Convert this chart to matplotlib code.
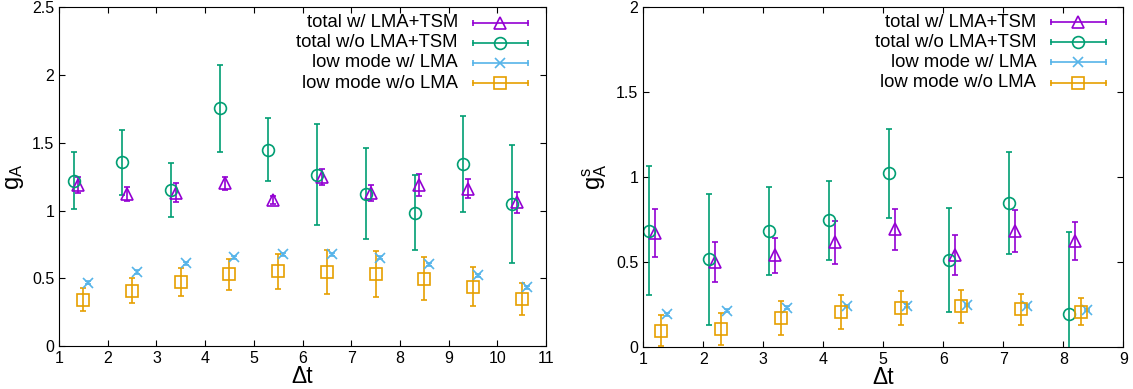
import numpy as np
import matplotlib
matplotlib.use("Agg")
import matplotlib.pyplot as plt

plt.rcParams['font.family'] = ['Liberation Sans', 'DejaVu Sans']
plt.rcParams['mathtext.fontset'] = 'custom'
plt.rcParams['mathtext.rm'] = 'Liberation Sans'
plt.rcParams['mathtext.it'] = 'Liberation Sans'

labels = ['total w/ LMA+TSM', 'total w/o LMA+TSM', 'low mode w/ LMA', 'low mode w/o LMA']
colors = ['#9400d3', '#009e73', '#56b4e9', '#e69f00']
markers = ['^', 'o', 'x', 's']
msizes = [8, 8.5, 7.5, 8]

# left panel: g_A
dt_left = np.arange(1, 11)
offs_left = [0.4, 0.3, 0.6, 0.5]
tot_lma = [1.19, 1.12, 1.13, 1.20, 1.08, 1.25, 1.13, 1.19, 1.16, 1.06]
tot_lma_err = [0.06, 0.05, 0.07, 0.05, 0.03, 0.06, 0.06, 0.08, 0.07, 0.08]
tot_nolma = [1.22, 1.355, 1.15, 1.755, 1.45, 1.265, 1.125, 0.985, 1.345, 1.045]
tot_nolma_err = [0.21, 0.24, 0.20, 0.32, 0.235, 0.373, 0.337, 0.275, 0.355, 0.435]
low_lma = [0.466, 0.547, 0.609, 0.654, 0.678, 0.678, 0.651, 0.602, 0.523, 0.432]
low_lma_err = [0.012] * 10
low_nolma = [0.343, 0.407, 0.473, 0.528, 0.552, 0.545, 0.530, 0.496, 0.437, 0.348]
low_nolma_err = [0.083, 0.092, 0.105, 0.115, 0.13, 0.162, 0.17, 0.16, 0.143, 0.118]

# right panel: g_A^s
dt_right = np.arange(1, 9)
offs_right = [0.2, 0.1, 0.4, 0.3]
s_tot_lma = [0.668, 0.50, 0.537, 0.613, 0.69, 0.54, 0.68, 0.622]
s_tot_lma_err = [0.14, 0.118, 0.104, 0.126, 0.12, 0.12, 0.123, 0.112]
s_tot_nolma = [0.682, 0.514, 0.681, 0.743, 1.02, 0.51, 0.843, 0.192]
s_tot_nolma_err = [0.38, 0.385, 0.26, 0.233, 0.262, 0.304, 0.30, 0.48]
s_low_lma = [0.191, 0.212, 0.229, 0.239, 0.241, 0.245, 0.239, 0.216]
s_low_lma_err = [0.008] * 8
s_low_nolma = [0.094, 0.106, 0.171, 0.204, 0.229, 0.239, 0.22, 0.206]
s_low_nolma_err = [0.09, 0.095, 0.10, 0.10, 0.10, 0.097, 0.09, 0.08]

fig = plt.figure(figsize=(11.33, 3.89), dpi=100)
axL = fig.add_axes([59/1133, 1-346/389, 487/1133, 338.7/389])
axR = fig.add_axes([643.3/1133, 1-346.7/389, 480/1133, 340/389])


def draw(ax, dt, offs, series):
    for (y, e), c, m, ms, o in zip(series, colors, markers, msizes, offs):
        ax.errorbar(dt + o, y, yerr=e, fmt=m, color=c, mfc='none', mec=c,
                    ms=ms, mew=1.2, elinewidth=1.2, capsize=2.3, capthick=1.2)
    # gnuplot style key
    rows = [0.954, 0.895, 0.836, 0.776]
    for lab, c, m, ms, yy in zip(labels, colors, markers, msizes, rows):
        ax.text(0.819, yy, lab, transform=ax.transAxes, ha='right', va='center',
                fontsize=13.3)
        ax.plot([0.85, 0.963], [yy, yy], color=c, lw=1.2, marker='|', ms=5,
                mew=1.2, transform=ax.transAxes)
        ax.plot([0.906], [yy], color=c, marker=m, mfc='none', mew=1.2,
                ms=ms, transform=ax.transAxes)
    ax.tick_params(direction='in', top=True, right=True, length=4,
                   labelsize=11.5, width=0.8)
    ax.set_xlabel('Δt', fontsize=16.5)
    ax.xaxis.set_label_coords(0.5, -0.056)


draw(axL, dt_left, offs_left,
     [(tot_lma, tot_lma_err), (tot_nolma, tot_nolma_err),
      (low_lma, low_lma_err), (low_nolma, low_nolma_err)])
axL.set_xlim(1, 11)
axL.set_ylim(0, 2.5)
axL.set_xticks(range(1, 12))
axL.set_yticks([0, 0.5, 1, 1.5, 2, 2.5])
axL.set_yticklabels(['0', '0.5', '1', '1.5', '2', '2.5'])
axL.set_ylabel(r'$\mathregular{g_A}$', fontsize=17)
axL.yaxis.set_label_coords(-0.068, 0.5)

draw(axR, dt_right, offs_right,
     [(s_tot_lma, s_tot_lma_err), (s_tot_nolma, s_tot_nolma_err),
      (s_low_lma, s_low_lma_err), (s_low_nolma, s_low_nolma_err)])
axR.set_xlim(1, 9)
axR.set_ylim(0, 2)
axR.set_xticks(range(1, 10))
axR.set_yticks([0, 0.5, 1, 1.5, 2])
axR.set_yticklabels(['0', '0.5', '1', '1.5', '2'])
axR.set_ylabel(r'$\mathregular{g_A^s}$', fontsize=17)
axR.yaxis.set_label_coords(-0.072, 0.5)

fig.savefig('out.png', dpi=100)
